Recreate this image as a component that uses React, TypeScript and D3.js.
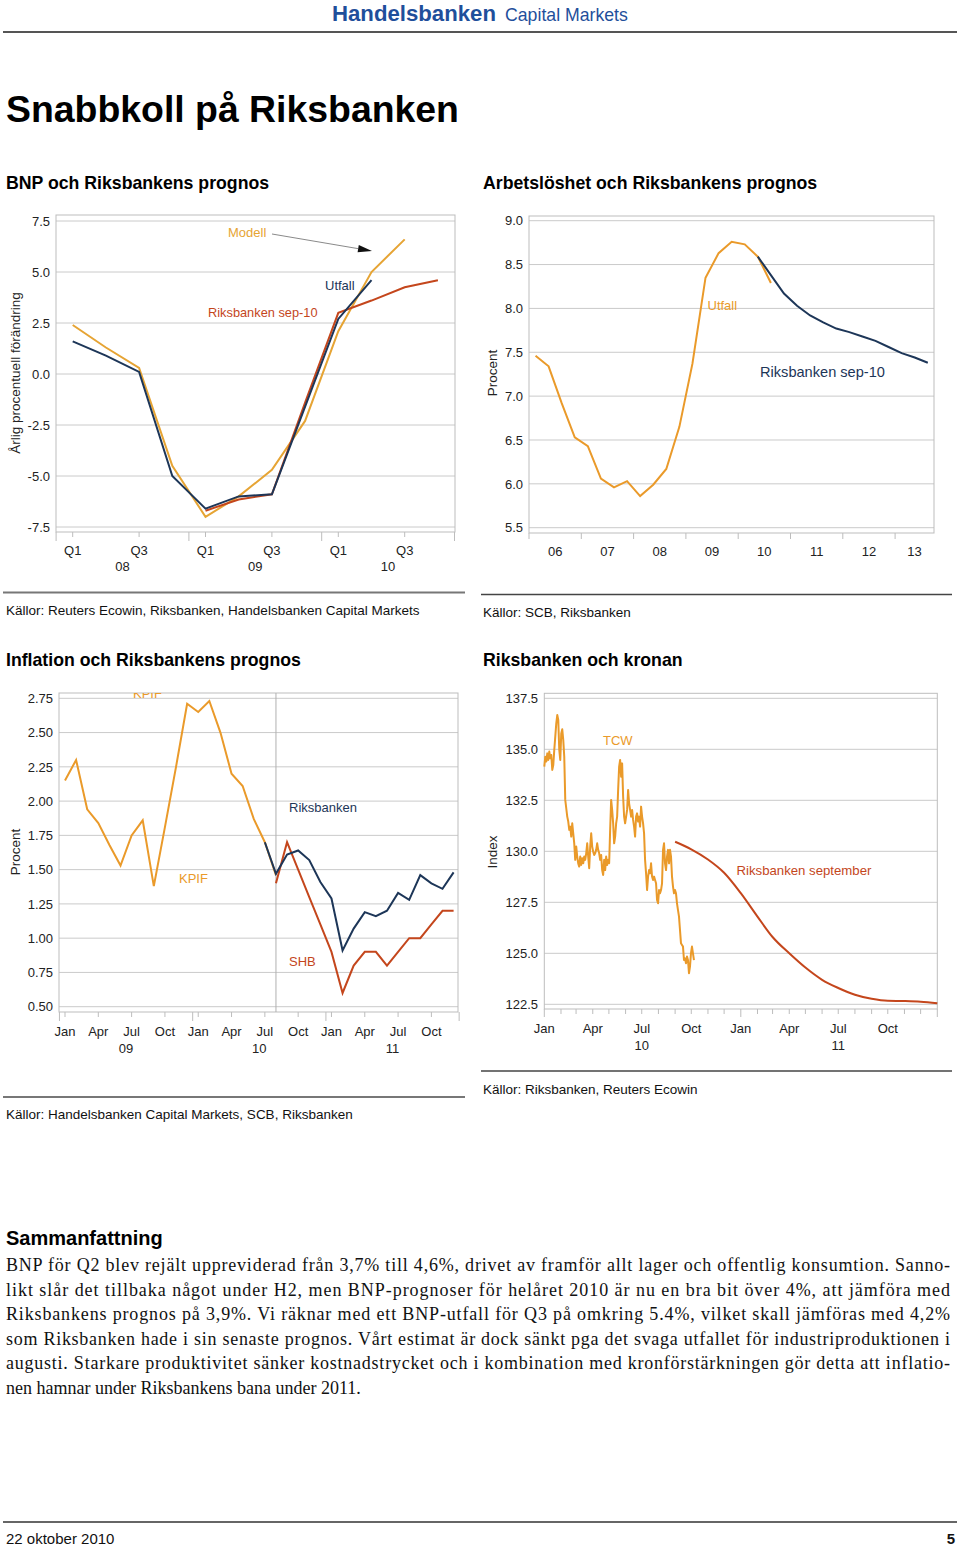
import React from 'react';
import * as d3 from 'd3';

const ORANGE = '#ea9a2a';
const GOLD = '#e6a434';
const NAVY = '#1d3658';
const RUST = '#c4461c';
const GRID = '#cacaca';
const FRAME = '#bdbdbd';
const SANS = '"Liberation Sans", Arial, Helvetica, sans-serif';
const SERIF = '"Liberation Serif", "Times New Roman", serif';

// ---------- Chart 1: BNP (quarterly, Q1 08 .. Q4 10)
const bnpQuarters = ['Q1 08', 'Q2 08', 'Q3 08', 'Q4 08', 'Q1 09', 'Q2 09', 'Q3 09', 'Q4 09', 'Q1 10', 'Q2 10', 'Q3 10', 'Q4 10'];
const bnpUtfall: (number | null)[] = [1.6, 0.9, 0.1, -5.0, -6.6, -6.0, -5.9, -1.6, 2.7, 4.6, null, null];
const bnpModell: (number | null)[] = [2.4, 1.3, 0.3, -4.5, -7.0, -6.0, -4.7, -2.3, 2.1, 5.0, 6.6, null];
const bnpRiksbanken: (number | null)[] = [null, null, null, null, -6.7, -6.15, -5.9, -1.4, 3.0, 3.6, 4.25, 4.6];
const bnpYTicks = [-7.5, -5, -2.5, 0, 2.5, 5, 7.5];
const bnpXLabels = ['Q1', 'Q3', 'Q1', 'Q3', 'Q1', 'Q3'];
const bnpYears = ['08', '09', '10'];

// ---------- Chart 2: Arbetslöshet (quarterly from Q1 06)
const unempStartYear = 2006;
const unempUtfall = [7.46, 7.34, 6.92, 6.53, 6.43, 6.06, 5.96, 6.03, 5.86, 5.99, 6.17, 6.65, 7.37, 8.35, 8.63, 8.76, 8.73, 8.59, 8.29];
const unempRiksStart = 17; // Q2 10
const unempRiksbanken = [8.59, 8.38, 8.17, 8.03, 7.92, 7.84, 7.77, 7.73, 7.68, 7.63, 7.56, 7.49, 7.44, 7.38];
const unempYTicks = [5.5, 6.0, 6.5, 7.0, 7.5, 8.0, 8.5, 9.0];
const unempYears = ['06', '07', '08', '09', '10', '11', '12', '13'];

// ---------- Chart 3: Inflation (monthly Jan 09 .. Dec 11)
const inflKpif = [2.15, 2.30, 1.94, 1.84, 1.68, 1.53, 1.75, 1.86, 1.38, 1.81, 2.25, 2.71, 2.65, 2.73, 2.50, 2.20, 2.11, 1.87, 1.70, 1.46];
const inflRiksStart = 18;
const inflRiksbanken = [1.70, 1.47, 1.61, 1.64, 1.57, 1.41, 1.29, 0.91, 1.07, 1.19, 1.16, 1.20, 1.33, 1.28, 1.46, 1.40, 1.36, 1.48];
const inflShbStart = 19;
const inflShb = [1.40, 1.70, 1.50, 1.30, 1.10, 0.90, 0.60, 0.80, 0.90, 0.90, 0.80, 0.90, 1.00, 1.00, 1.10, 1.20, 1.20];
const inflYTicks = [0.5, 0.75, 1.0, 1.25, 1.5, 1.75, 2.0, 2.25, 2.5, 2.75];
const inflMonthLabels = ['Jan', 'Apr', 'Jul', 'Oct'];
const inflYears = ['09', '10', '11'];

// ---------- Chart 4: Kronan (TCW index)
const tcwValues = [
  134.15, 134.64, 134.40, 134.80, 134.48, 134.89, 134.56, 134.72, 133.99, 134.23,
  134.97, 135.62, 136.27, 136.68, 136.44, 134.97, 134.48, 135.78, 135.98, 135.46,
  134.64, 132.52, 132.11, 131.70, 131.46, 131.05, 131.21, 130.72, 131.37, 130.88,
  130.39, 129.58, 130.23, 129.74, 129.41, 129.25, 129.74, 129.33, 129.66, 129.41,
  129.74, 129.58, 129.90, 130.39, 129.74, 129.17, 130.23, 130.88, 130.23, 129.98,
  129.82, 129.90, 130.07, 130.39, 130.07, 129.90, 129.58, 129.82, 129.08, 128.84,
  129.58, 129.08, 129.74, 129.33, 129.58, 129.41, 131.05, 132.52, 132.03, 131.37,
  130.39, 130.72, 131.37, 131.70, 133.01, 134.15, 134.48, 133.66, 134.31, 132.68,
  131.70, 131.37, 131.70, 132.03, 133.01, 132.35, 132.03, 131.70, 132.03, 131.54,
  131.21, 130.72, 131.70, 131.86, 131.46, 131.70, 131.21, 132.19, 131.70, 131.37,
  130.88, 129.58, 128.92, 128.10, 128.76, 129.08, 128.92, 129.41, 128.76, 128.59,
  128.76, 128.59, 128.43, 127.61, 127.45, 128.10, 127.94, 128.10, 128.43, 130.07,
  130.39, 129.41, 129.08, 129.74, 130.07, 129.41, 130.07, 129.74, 128.76, 128.27,
  127.94, 128.10, 127.94, 127.45, 127.12, 126.80, 126.14, 125.49, 125.41, 125.33,
  124.67, 124.75, 124.51, 124.84, 124.67, 124.02, 124.35, 125.00, 125.33, 125.00,
  124.67,
];
const tcwStart = new Date(2010, 0, 1);
const tcwEnd = new Date(2010, 9, 6);
const rbSeptember = [130.47, 130.1, 129.6, 128.95, 127.95, 126.8, 125.8, 125.0, 124.3, 123.7, 123.3, 122.97, 122.77, 122.67, 122.66, 122.63, 122.55];
const rbSeptemberStart = new Date(2010, 8, 1);
const kronYTicks = [122.5, 125.0, 127.5, 130.0, 132.5, 135.0, 137.5];
const kronMonthLabels = ['Jan', 'Apr', 'Jul', 'Oct'];
const kronYears = ['10', '11'];

// ---------- Text
const summaryLines = [
  'BNP för Q2 blev rejält uppreviderad från 3,7% till 4,6%, drivet av framför allt lager och offentlig konsumtion. Sanno-',
  'likt slår det tillbaka något under H2, men BNP-prognoser för helåret 2010 är nu en bra bit över 4%, att jämföra med',
  'Riksbankens prognos på 3,9%. Vi räknar med ett BNP-utfall för Q3 på omkring 5.4%, vilket skall jämföras med 4,2%',
  'som Riksbanken hade i sin senaste prognos. Vårt estimat är dock sänkt pga det svaga utfallet för industriproduktionen i',
  'augusti. Starkare produktivitet sänker kostnadstrycket och i kombination med kronförstärkningen gör detta att inflatio-',
  'nen hamnar under Riksbankens bana under 2011.',
];

type Pt = [number, number];
const lineGen = d3.line<Pt>().x(d => d[0]).y(d => d[1]);
const smoothGen = d3.line<Pt>().x(d => d[0]).y(d => d[1]).curve(d3.curveMonotoneX);

function seriesPts(vals: (number | null)[], offset: number, xs: (i: number) => number, ys: (v: number) => number): Pt[] {
  const out: Pt[] = [];
  vals.forEach((v, i) => {
    if (v != null) out.push([xs(i + offset), ys(v)]);
  });
  return out;
}

const hyphenFmt = (spec: string) => {
  const f = d3.format(spec);
  return (n: number) => f(n).replace('\u2212', '-');
};

const tickTxt = { fontFamily: SANS, fontSize: 13, fill: '#222' } as const;

function YAxis({ ticks, y, xLabel, x0, x1, fmt }: { ticks: number[]; y: d3.ScaleLinear<number, number>; xLabel: number; x0: number; x1: number; fmt: (n: number) => string }) {
  return (
    <g>
      {ticks.map(t => (
        <g key={t}>
          <line x1={x0} x2={x1} y1={y(t)} y2={y(t)} stroke={GRID} strokeWidth={1} />
          <text x={xLabel} y={y(t)} dy="0.36em" textAnchor="end" {...tickTxt}>{fmt(t)}</text>
        </g>
      ))}
    </g>
  );
}

function Frame({ x0, y0, x1, y1 }: { x0: number; y0: number; x1: number; y1: number }) {
  return <rect x={x0} y={y0} width={x1 - x0} height={y1 - y0} fill="none" stroke={FRAME} strokeWidth={1} />;
}

function YTitle({ x, y, text }: { x: number; y: number; text: string }) {
  return (
    <text transform={`translate(${x},${y}) rotate(-90)`} textAnchor="middle" dy="0.36em" fontFamily={SANS} fontSize={13.5} fill="#222">{text}</text>
  );
}

function Chart1() {
  const f = { x0: 56, y0: 215, x1: 455, y1: 532 };
  const x = d3.scaleLinear().domain([0, bnpQuarters.length - 1]).range([72.7, 437.9]);
  const y = d3.scaleLinear().domain([-7.5, 7.5]).range([527, 221]);
  const fmt = hyphenFmt('.1f');
  const ux = seriesPts(bnpUtfall, 0, x, y);
  const mx = seriesPts(bnpModell, 0, x, y);
  const rx = seriesPts(bnpRiksbanken, 0, x, y);
  const tipX = 372, tipY = 251, sx = 272, sy = 234;
  const len = Math.hypot(tipX - sx, tipY - sy);
  const ux_ = (tipX - sx) / len, uy_ = (tipY - sy) / len;
  const bx = tipX - 14 * ux_, by = tipY - 14 * uy_;
  const px = -uy_ * 3.6, py = ux_ * 3.6;
  return (
    <g>
      <YAxis ticks={bnpYTicks} y={y} xLabel={50} x0={f.x0} x1={f.x1} fmt={fmt} />
      <Frame {...f} />
      {d3.range(-0.5, 12, 4).map(i => (
        <line key={'m' + i} x1={x(i)} x2={x(i)} y1={f.y1} y2={f.y1 + 9} stroke={FRAME} />
      ))}
      {bnpXLabels.map((l, k) => (
        <g key={'q' + k}>
          <line x1={x(k * 2)} x2={x(k * 2)} y1={f.y1} y2={f.y1 + 5} stroke={FRAME} />
          <text x={x(k * 2)} y={554.5} textAnchor="middle" {...tickTxt}>{l}</text>
        </g>
      ))}
      {bnpYears.map((l, k) => (
        <text key={'y' + l} x={x(k * 4 + 1.5)} y={571} textAnchor="middle" {...tickTxt}>{l}</text>
      ))}
      <path d={lineGen(mx) || ''} fill="none" stroke={GOLD} strokeWidth={2} />
      <path d={lineGen(rx) || ''} fill="none" stroke={RUST} strokeWidth={2} />
      <path d={lineGen(ux) || ''} fill="none" stroke={NAVY} strokeWidth={2} />
      <line x1={sx} y1={sy} x2={bx} y2={by} stroke="#8a8a8a" strokeWidth={1} />
      <polygon points={`${tipX},${tipY} ${bx + px},${by + py} ${bx - px},${by - py}`} fill="#111" />
      <text x={228} y={237} fontFamily={SANS} fontSize={13} fill={GOLD}>Modell</text>
      <text x={325} y={289.5} fontFamily={SANS} fontSize={13} fill={NAVY}>Utfall</text>
      <text x={208} y={317} fontFamily={SANS} fontSize={12.8} fill={RUST}>Riksbanken sep-10</text>
      <YTitle x={15} y={373} text="Årlig procentuell förändring" />
    </g>
  );
}

function Chart2() {
  const f = { x0: 529, y0: 216, x1: 934, y1: 533 };
  const xt = d3.scaleLinear().domain([2006, 2014]).range([529, 947.4]);
  const xq = (i: number) => xt(unempStartYear + (i + 0.5) / 4);
  const y = d3.scaleLinear().domain([5.5, 9.0]).range([527.7, 220.7]);
  const fmt = hyphenFmt('.1f');
  const up = seriesPts(unempUtfall, 0, xq, y);
  const rp = seriesPts(unempRiksbanken, unempRiksStart, xq, y);
  return (
    <g>
      <YAxis ticks={unempYTicks} y={y} xLabel={523} x0={f.x0} x1={f.x1} fmt={fmt} />
      <Frame {...f} />
      {unempYears.map((l, k) => {
        const a = xt(2006 + k);
        const b = Math.min(xt(2007 + k), f.x1);
        return (
          <g key={l}>
            <line x1={a} x2={a} y1={f.y1} y2={f.y1 + 6} stroke={FRAME} />
            <text x={(a + b) / 2} y={555.5} textAnchor="middle" {...tickTxt}>{l}</text>
          </g>
        );
      })}
      <path d={lineGen(up) || ''} fill="none" stroke={ORANGE} strokeWidth={2} />
      <path d={lineGen(rp) || ''} fill="none" stroke={NAVY} strokeWidth={2} />
      <text x={707.5} y={309.5} fontFamily={SANS} fontSize={13} fill={ORANGE}>Utfall</text>
      <text x={760} y={376.5} fontFamily={SANS} fontSize={14.6} fill={NAVY}>Riksbanken sep-10</text>
      <YTitle x={492} y={373} text="Procent" />
    </g>
  );
}

function Chart3() {
  const f = { x0: 59, y0: 693, x1: 458, y1: 1012 };
  const x = d3.scaleLinear().domain([0, 35]).range([65, 453.6]);
  const y = d3.scaleLinear().domain([0.5, 2.75]).range([1006.7, 698.3]);
  const fmt = hyphenFmt('.2f');
  const kp = seriesPts(inflKpif, 0, x, y);
  const rp = seriesPts(inflRiksbanken, inflRiksStart, x, y);
  const sp = seriesPts(inflShb, inflShbStart, x, y);
  return (
    <g>
      <defs>
        <clipPath id="c3clip"><rect x={f.x0} y={f.y0} width={f.x1 - f.x0} height={f.y1 - f.y0} /></clipPath>
      </defs>
      <YAxis ticks={inflYTicks} y={y} xLabel={53} x0={f.x0} x1={f.x1} fmt={fmt} />
      <Frame {...f} />
      <line x1={x(19)} x2={x(19)} y1={f.y0} y2={f.y1} stroke="#b0b0b0" strokeWidth={1} />
      {d3.range(-0.5, 36, 12).map(i => (
        <line key={'b' + i} x1={x(i)} x2={x(i)} y1={f.y1} y2={f.y1 + 9} stroke={FRAME} />
      ))}
      {d3.range(0, 36, 3).map((m, k) => (
        <g key={'m' + m}>
          <line x1={x(m)} x2={x(m)} y1={f.y1} y2={f.y1 + 5} stroke={FRAME} />
          <text x={x(m)} y={1035.5} textAnchor="middle" {...tickTxt}>{inflMonthLabels[k % 4]}</text>
        </g>
      ))}
      {inflYears.map((l, k) => (
        <text key={l} x={x(k * 12 + 5.5)} y={1053} textAnchor="middle" {...tickTxt}>{l}</text>
      ))}
      <path d={lineGen(kp) || ''} fill="none" stroke={ORANGE} strokeWidth={2} />
      <path d={lineGen(sp) || ''} fill="none" stroke={RUST} strokeWidth={2} />
      <path d={lineGen(rp) || ''} fill="none" stroke={NAVY} strokeWidth={2} />
      <g clipPath="url(#c3clip)">
        <text x={133} y={697.5} fontFamily={SANS} fontSize={13} fill={ORANGE}>KPIF</text>
      </g>
      <text x={179} y={883} fontFamily={SANS} fontSize={13} fill={ORANGE}>KPIF</text>
      <text x={289} y={812} fontFamily={SANS} fontSize={13} fill={NAVY}>Riksbanken</text>
      <text x={289} y={966} fontFamily={SANS} fontSize={13} fill={RUST}>SHB</text>
      <YTitle x={15} y={852} text="Procent" />
    </g>
  );
}

function Chart4() {
  const f = { x0: 544.3, y0: 693.3, x1: 937.3, y1: 1009 };
  const x = d3.scaleTime().domain([new Date(2010, 0, 1), new Date(2012, 0, 1)]).range([544.3, 937.3]);
  const y = d3.scaleLinear().domain([122.5, 137.5]).range([1004.3, 698.3]);
  const fmt = hyphenFmt('.1f');
  const tcwT = d3.scaleLinear().domain([0, tcwValues.length - 1]).range([+tcwStart, +tcwEnd]);
  const tp: Pt[] = tcwValues.map((v, i) => [x(new Date(tcwT(i))), y(v)]);
  const rp: Pt[] = rbSeptember.map((v, i) => [x(d3.timeMonth.offset(rbSeptemberStart, i)), y(v)]);
  const months = d3.timeMonth.range(new Date(2010, 0, 1), new Date(2012, 0, 2));
  return (
    <g>
      <YAxis ticks={kronYTicks} y={y} xLabel={538} x0={f.x0} x1={f.x1} fmt={fmt} />
      <Frame {...f} />
      {months.map((m, i) => (
        <line key={'t' + i} x1={x(m)} x2={x(m)} y1={f.y1} y2={f.y1 + (m.getMonth() === 0 ? 8 : 5)} stroke={FRAME} />
      ))}
      {months.filter(m => m.getMonth() % 3 === 0 && m.getFullYear() < 2012).map((m, i) => (
        <text key={'l' + i} x={x(m)} y={1033} textAnchor="middle" {...tickTxt}>{kronMonthLabels[m.getMonth() / 3]}</text>
      ))}
      {kronYears.map((l, k) => (
        <text key={l} x={x(new Date(2010 + k, 6, 1))} y={1050} textAnchor="middle" {...tickTxt}>{l}</text>
      ))}
      <path d={lineGen(tp) || ''} fill="none" stroke={ORANGE} strokeWidth={2} strokeLinejoin="round" />
      <path d={smoothGen(rp) || ''} fill="none" stroke={RUST} strokeWidth={2} />
      <text x={603} y={744.5} fontFamily={SANS} fontSize={13} fill={ORANGE}>TCW</text>
      <text x={736.5} y={875} fontFamily={SANS} fontSize={13.2} fill={RUST}>Riksbanken september</text>
      <YTitle x={492} y={852} text="Index" />
    </g>
  );
}

export default function App() {
  return (
    <svg width={960} height={1546} style={{ position: 'absolute', left: 0, top: 0, background: '#fff' }}>
      <rect x={0} y={0} width={960} height={1546} fill="#fff" />
      {/* header */}
      <text x={332} y={21} fontFamily={SANS} fontWeight="bold" fontSize={22.2} fill="#1f4f9b">Handelsbanken</text>
      <text x={505} y={21} fontFamily={SANS} fontSize={17.7} fill="#1f4f9b">Capital Markets</text>
      <line x1={3} x2={957} y1={32} y2={32} stroke="#555" strokeWidth={2} />
      <text x={6} y={122} fontFamily={SANS} fontWeight="bold" fontSize={37.4} fill="#000">Snabbkoll på Riksbanken</text>

      <text x={6} y={189} fontFamily={SANS} fontWeight="bold" fontSize={17.7} fill="#000">BNP och Riksbankens prognos</text>
      <text x={483} y={189} fontFamily={SANS} fontWeight="bold" fontSize={17.7} fill="#000">Arbetslöshet och Riksbankens prognos</text>

      <Chart1 />
      <Chart2 />

      <line x1={3} x2={465} y1={592.5} y2={592.5} stroke="#777" strokeWidth={2} />
      <line x1={481} x2={952} y1={594.5} y2={594.5} stroke="#444" strokeWidth={1.5} />
      <text x={6} y={614.5} fontFamily={SANS} fontSize={13.5} fill="#111">Källor: Reuters Ecowin, Riksbanken, Handelsbanken Capital Markets</text>
      <text x={483} y={616.5} fontFamily={SANS} fontSize={13.5} fill="#111">Källor: SCB, Riksbanken</text>

      <text x={6} y={666} fontFamily={SANS} fontWeight="bold" fontSize={17.7} fill="#000">Inflation och Riksbankens prognos</text>
      <text x={483} y={666} fontFamily={SANS} fontWeight="bold" fontSize={17.7} fill="#000">Riksbanken och kronan</text>

      <Chart3 />
      <Chart4 />

      <line x1={481} x2={952} y1={1071} y2={1071} stroke="#444" strokeWidth={1.5} />
      <text x={483} y={1093.5} fontFamily={SANS} fontSize={13.5} fill="#111">Källor: Riksbanken, Reuters Ecowin</text>
      <line x1={3} x2={465} y1={1097} y2={1097} stroke="#777" strokeWidth={2} />
      <text x={6} y={1118.5} fontFamily={SANS} fontSize={13.5} fill="#111">Källor: Handelsbanken Capital Markets, SCB, Riksbanken</text>

      <text x={6} y={1245} fontFamily={SANS} fontWeight="bold" fontSize={20} fill="#000">Sammanfattning</text>
      {summaryLines.map((l, i) => (
        <text key={i} x={6} y={1271 + i * 24.6} fontFamily={SERIF} fontSize={18} fill="#111"
          {...(i < summaryLines.length - 1 ? { textLength: 944, lengthAdjust: 'spacing' } : {})}>{l}</text>
      ))}

      <line x1={3} x2={957} y1={1522} y2={1522} stroke="#666" strokeWidth={2} />
      <text x={6} y={1544} fontFamily={SANS} fontSize={15} fill="#111">22 oktober 2010</text>
      <text x={955} y={1544} textAnchor="end" fontFamily={SANS} fontWeight="bold" fontSize={15} fill="#111">5</text>
    </svg>
  );
}
